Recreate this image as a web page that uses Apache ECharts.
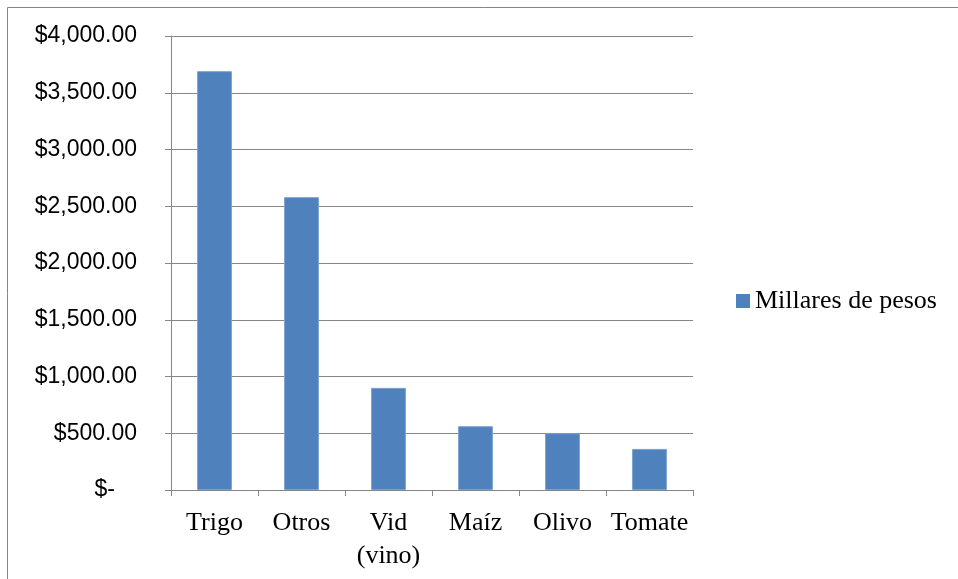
<!DOCTYPE html>
<html>
<head>
<meta charset="utf-8">
<script src="https://cdn.jsdelivr.net/npm/echarts@6/dist/echarts.min.js"></script>
<style>
  html, body { margin: 0; padding: 0; background: #fff; }
  #main { width: 958px; height: 579px; }
</style>
</head>
<body>
<div id="main"></div>
<script>
// datos
var categories = ['Trigo', 'Otros', 'Vid (vino)', 'Maíz', 'Olivo', 'Tomate'];
var seriesName = 'Millares de pesos';
var values = [3690, 2580, 900, 562, 500, 362];

var myChart = echarts.init(document.getElementById('main'));

var fmtMoney = function (v) {
  if (v === 0) return '{z|$-}';
  return '$' + v.toLocaleString('en-US', { minimumFractionDigits: 2, maximumFractionDigits: 2 });
};

var option = {
  animation: false,
  backgroundColor: '#fff',
  graphic: [{
    type: 'rect',
    shape: { x: 7.5, y: 7.5, width: 1000, height: 1000 },
    style: { fill: 'none', stroke: '#868686', lineWidth: 1 }
  }],
  grid: { left: 171, right: 265, top: 36, bottom: 89 },
  legend: {
    data: [seriesName],
    orient: 'vertical',
    left: 731,
    top: 283,
    itemWidth: 14,
    itemHeight: 14,
    itemGap: 6,
    icon: 'rect',
    itemStyle: { borderWidth: 0 },
    textStyle: { fontFamily: 'Liberation Serif', fontSize: 26, color: '#000' }
  },
  xAxis: {
    type: 'category',
    data: categories,
    axisLine: { lineStyle: { color: '#868686', width: 1 } },
    axisTick: { show: true, length: 6, lineStyle: { color: '#868686' } },
    axisLabel: {
      margin: 17,
      fontFamily: 'Liberation Serif',
      fontSize: 26,
      lineHeight: 33,
      color: '#000',
      interval: 0,
      formatter: function (v) { return v.replace(' ', '\n'); }
    }
  },
  yAxis: {
    type: 'value',
    min: 0,
    max: 4000,
    interval: 500,
    axisLine: { show: true, lineStyle: { color: '#868686', width: 1 } },
    axisTick: { show: true, length: 6, lineStyle: { color: '#868686' } },
    splitLine: { lineStyle: { color: '#868686', width: 1 } },
    axisLabel: {
      margin: 34,
      fontFamily: 'Liberation Sans',
      fontSize: 23,
      color: '#000',
      formatter: fmtMoney,
      rich: {
        z: { fontFamily: 'Liberation Sans', fontSize: 23, color: '#000', padding: [0, 22, 0, 0] }
      }
    }
  },
  series: [{
    name: seriesName,
    type: 'bar',
    barWidth: '40%',
    data: values,
    itemStyle: { color: '#4F81BD', borderColor: '#7BA0CD', borderWidth: 1 }
  }]
};

myChart.setOption(option);
</script>
</body>
</html>
